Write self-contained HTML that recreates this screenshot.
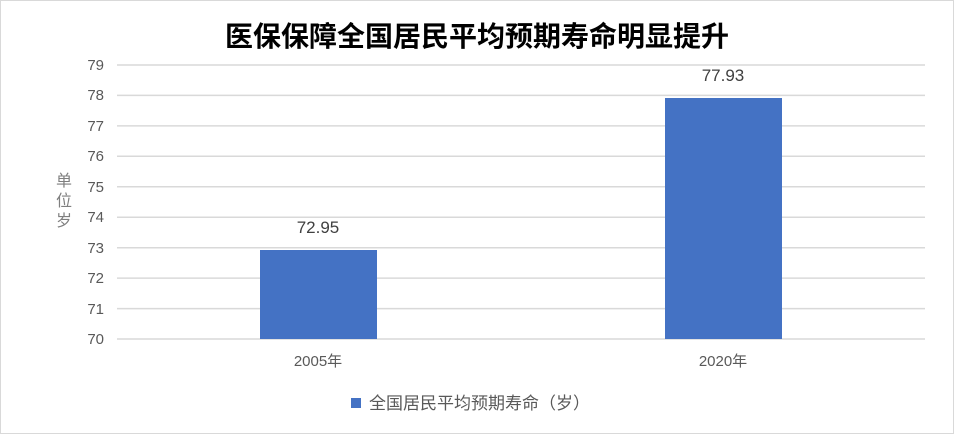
<!DOCTYPE html>
<html><head><meta charset="utf-8"><style>
html,body{margin:0;padding:0;background:#fff}
svg{display:block}
text{font-family:"Liberation Sans","Noto Sans CJK SC",sans-serif}
</style></head><body>
<svg width="954" height="434" viewBox="0 0 954 434">
<rect x="0.5" y="0.5" width="953" height="433" fill="#fff" stroke="#d9d9d9"/>
<text x="477" y="46" text-anchor="middle" font-size="28" font-weight="bold" fill="#000">医保保障全国居民平均预期寿命明显提升</text>
<g stroke="#d9d9d9" stroke-width="1.5">
<line x1="117" x2="925" y1="65" y2="65"/><line x1="117" x2="925" y1="95.4" y2="95.4"/>
<line x1="117" x2="925" y1="125.9" y2="125.9"/><line x1="117" x2="925" y1="156.3" y2="156.3"/>
<line x1="117" x2="925" y1="186.8" y2="186.8"/><line x1="117" x2="925" y1="217.2" y2="217.2"/>
<line x1="117" x2="925" y1="247.7" y2="247.7"/><line x1="117" x2="925" y1="278.1" y2="278.1"/>
<line x1="117" x2="925" y1="308.6" y2="308.6"/><line x1="117" x2="925" y1="339" y2="339"/>
</g>
<g font-size="15" fill="#595959" text-anchor="end">
<text x="104" y="70">79</text><text x="104" y="100">78</text><text x="104" y="131">77</text>
<text x="104" y="161">76</text><text x="104" y="192">75</text><text x="104" y="222">74</text>
<text x="104" y="253">73</text><text x="104" y="283">72</text><text x="104" y="314">71</text>
<text x="104" y="344">70</text>
</g>
<g font-size="16" fill="#7f7f7f" text-anchor="middle">
<text x="64" y="186">单</text><text x="64" y="206">位</text><text x="64" y="226">岁</text>
</g>
<rect x="260" y="250" width="117" height="89" fill="#4472c4"/>
<rect x="665" y="98" width="117" height="241" fill="#4472c4"/>
<g font-size="17" fill="#404040" text-anchor="middle">
<text x="318" y="233">72.95</text><text x="723" y="81">77.93</text>
</g>
<g font-size="15" fill="#595959" text-anchor="middle">
<text x="318" y="366">2005年</text><text x="723" y="366">2020年</text>
</g>
<rect x="351" y="398" width="10" height="10" fill="#4472c4"/>
<text x="369" y="409" font-size="17" fill="#595959">全国居民平均预期寿命（岁）</text>
</svg>
</body></html>
